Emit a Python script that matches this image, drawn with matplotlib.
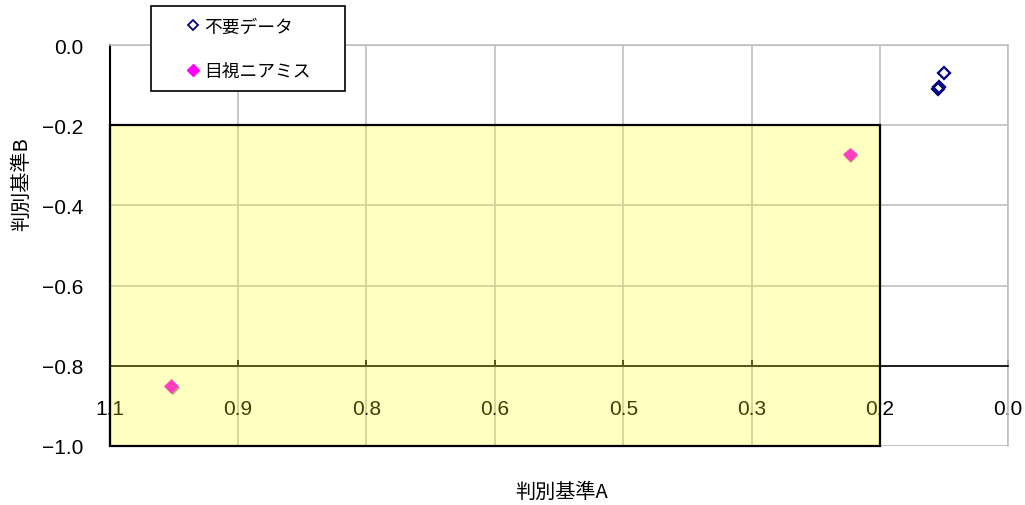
import matplotlib
matplotlib.use("Agg")
import matplotlib.pyplot as plt
from matplotlib.patches import Rectangle
from matplotlib.lines import Line2D
import matplotlib.patheffects as pe

# ---- data -------------------------------------------------------------
unneeded_a = [0.078, 0.085, 0.086]      # 不要データ : 判別基準A
unneeded_b = [-0.070, -0.105, -0.109]   # 不要データ : 判別基準B
nearmiss_a = [1.025, 0.194]             # 目視ニアミス : 判別基準A
nearmiss_b = [-0.851, -0.273]           # 目視ニアミス : 判別基準B

x_ticks = [1.1, 0.943, 0.786, 0.629, 0.471, 0.314, 0.157, 0.0]
x_tick_labels = ["1.1", "0.9", "0.8", "0.6", "0.5", "0.3", "0.2", "0.0"]
y_ticks = [0.0, -0.2, -0.4, -0.6, -0.8, -1.0]
y_tick_labels = ["0.0", "\u22120.2", "\u22120.4", "\u22120.6", "\u22120.8", "\u22121.0"]

# highlighted region (A from 0.157 to 1.1, B from -1.0 to -0.2)
region_a = (0.157, 1.1)
region_b = (-1.0, -0.2)
x_axis_at = -0.8

series_labels = ["不要データ", "目視ニアミス"]

# ---- figure -----------------------------------------------------------
W, H = 1025, 506
fig = plt.figure(figsize=(W / 100, H / 100), dpi=100)
fig.patch.set_facecolor("white")
jp = ["Noto Sans CJK JP", "DejaVu Sans"]
num_font = "Liberation Sans"

ax = fig.add_axes([110 / W, 1 - 447 / H, 898 / W, 401 / H])

grid_c = "#c0c0c0"
for s in ("top", "right"):
    ax.spines[s].set_color(grid_c)
    ax.spines[s].set_linewidth(1.2)
ax.spines["left"].set_color("black")
ax.spines["left"].set_linewidth(1.5)
ax.spines["bottom"].set_position(("data", x_axis_at))
ax.spines["bottom"].set_color("black")
ax.spines["bottom"].set_linewidth(1.2)

ax.set_xlim(1.1, 0.0)
ax.set_ylim(-1.0, 0.0)
ax.set_xticks(x_ticks)
ax.set_xticklabels(x_tick_labels)
ax.set_yticks(y_ticks)
ax.set_yticklabels(y_tick_labels)
ax.tick_params(labelsize=15, labelfontfamily=num_font, labelcolor="black")
ax.tick_params(axis="x", direction="in", length=4, width=1.2, pad=24, colors="black")
ax.tick_params(axis="y", length=0, pad=19)
ax.grid(True, color=grid_c, linewidth=1.2, zorder=0)
ax.set_axisbelow(True)
# gray frame line along B = -1.0
ax.axhline(-1.0, color=grid_c, linewidth=1.2, zorder=0.5)

# ---- points -----------------------------------------------------------
shadow = [pe.SimplePatchShadow(offset=(1.2, -1.2), shadow_rgbFace="#808080", alpha=0.8), pe.Normal()]
ax.plot(unneeded_a, unneeded_b, linestyle="none", marker="D", markersize=6.2,
        markerfacecolor="none", markeredgecolor="#000080", markeredgewidth=1.6, zorder=3)
ax.plot(nearmiss_a, nearmiss_b, linestyle="none", marker="D", markersize=7,
        markerfacecolor="#ff00ff", markeredgecolor="#ff00ff", markeredgewidth=0.5,
        zorder=3, path_effects=shadow)

# translucent highlighted region on top of everything in the axes
ax.add_patch(Rectangle((region_a[0], region_b[0]), region_a[1] - region_a[0],
                       region_b[1] - region_b[0], facecolor=(1, 1, 0, 0.25),
                       edgecolor="black", linewidth=1.6, zorder=6, clip_on=False))

# ---- axis titles ------------------------------------------------------
fig.text(562 / W, 1 - 492 / H, "判別基準A", ha="center", va="center",
         fontsize=14.5, family=jp)
fig.text(22 / W, 1 - 184 / H, "判別基準B", ha="center", va="center",
         rotation=90, fontsize=14.5, family=jp)

# ---- legend -----------------------------------------------------------
box = Rectangle((151 / W, 1 - 92 / H), 194 / W, 85 / H, transform=fig.transFigure,
                facecolor="white", edgecolor="black", linewidth=1.2, zorder=3)
fig.patches.append(box)
handles = [
    Line2D([], [], linestyle="none", marker="D", markersize=5.5, markerfacecolor="none",
           markeredgecolor="#000080", markeredgewidth=1.3),
    Line2D([], [], linestyle="none", marker="D", markersize=6.5, markerfacecolor="#ff00ff",
           markeredgecolor="#ff00ff"),
]
fig.legend(handles, series_labels, loc="center", bbox_to_anchor=(249 / W, 1 - 50 / H),
           frameon=False, prop={"family": jp, "size": 12.8}, labelspacing=1.5,
           handlelength=0.6, handletextpad=0.3, borderpad=0.0)

fig.savefig("out.png", dpi=100, facecolor="white")
